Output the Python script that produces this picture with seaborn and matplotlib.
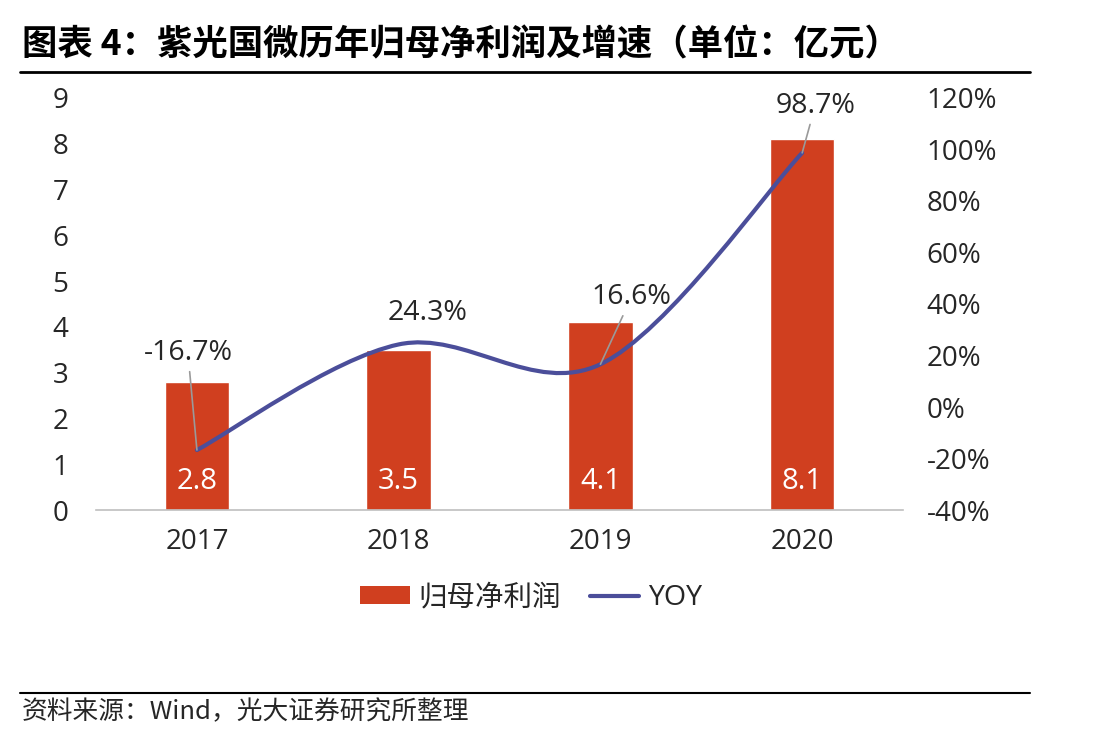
import matplotlib.pyplot as plt
import numpy as np
import seaborn as sns
from matplotlib.lines import Line2D
from matplotlib.patches import Patch, PathPatch
from matplotlib.path import Path

years = ["2017", "2018", "2019", "2020"]
profit = [2.8, 3.5, 4.1, 8.1]
yoy = [-16.7, 24.3, 16.6, 98.7]
yoy_labels = ["-16.7%", "24.3%", "16.6%", "98.7%"]

BAR_COLOR = "#D03F1F"
LINE_COLOR = "#4B4E9A"
TEXT_COLOR = "#262626"

sns.set_style("white")
plt.rcParams["font.family"] = ["Open Sans", "Noto Sans CJK SC", "DejaVu Sans"]


def smooth_path(xs, ys):
    # catmull-rom style bezier, similar to excel's smoothed line
    pts = np.column_stack([xs, ys]).astype(float)
    ext = np.vstack([pts[0], pts, pts[-1]])
    verts = [tuple(pts[0])]
    codes = [Path.MOVETO]
    for i in range(1, len(ext) - 2):
        p0, p1, p2, p3 = ext[i - 1], ext[i], ext[i + 1], ext[i + 2]
        c1 = p1 + (p2 - p0) / 6
        c2 = p2 - (p3 - p1) / 6
        verts += [tuple(c1), tuple(c2), tuple(p2)]
        codes += [Path.CURVE4] * 3
    return Path(verts, codes)


fig = plt.figure(figsize=(11.04, 7.44), dpi=100)
ax = fig.add_axes([0.087, 0.3145, 0.731, 0.5538])

sns.barplot(x=years, y=profit, color=BAR_COLOR, saturation=1, width=0.32, ax=ax)
ax.set_xlim(-0.5, 3.5)
ax.set_ylim(0, 9)
ax.set_yticks(range(0, 10))
ax.set_xlabel("")
ax.set_ylabel("")

for side in ["top", "left", "right"]:
    ax.spines[side].set_visible(False)
ax.spines["bottom"].set_color("#BFBFBF")
ax.spines["bottom"].set_linewidth(1.2)

ax.tick_params(axis="x", length=0, pad=13, labelsize=20, labelcolor=TEXT_COLOR)
ax.tick_params(axis="y", length=0, pad=20, labelsize=20, labelcolor=TEXT_COLOR)
ax.set_xticks(np.arange(-0.5, 4, 1), minor=True)
ax.tick_params(axis="x", which="minor", direction="in", length=4, color="#BFBFBF")

for i, v in enumerate(profit):
    ax.text(i, 0.62, f"{v:.1f}", color="white", ha="center", va="center", fontsize=21)

ax2 = ax.twinx()
ax2.set_ylim(-40, 120)
ax2.set_yticks(range(-40, 121, 20))
ax2.set_yticklabels([f"{t}%" for t in range(-40, 121, 20)])
for side in ax2.spines:
    ax2.spines[side].set_visible(False)
ax2.tick_params(axis="y", length=0, pad=17, labelsize=20, labelcolor=TEXT_COLOR)

ax2.add_patch(PathPatch(smooth_path(range(len(yoy)), yoy), facecolor="none",
                        edgecolor=LINE_COLOR, lw=3, capstyle="round", zorder=3))

label_offsets = [(-9, 97), (29, 31), (31, 67), (13, 47)]
leaders = [True, False, True, True]
for i, (v, lab) in enumerate(zip(yoy, yoy_labels)):
    arrow = dict(arrowstyle="-", color="#9A9A9A", lw=1.2, shrinkA=1, shrinkB=0) if leaders[i] else None
    ax2.annotate(lab, xy=(i, v), xytext=label_offsets[i], textcoords="offset pixels",
                 ha="center", va="center", fontsize=20.5, color=TEXT_COLOR,
                 arrowprops=arrow, zorder=4)

handles = [Patch(facecolor=BAR_COLOR, edgecolor="none"),
           Line2D([], [], color=LINE_COLOR, lw=3)]
fig.legend(handles, ["归母净利润", "YOY"], loc="center", bbox_to_anchor=(0.481, 0.196),
           ncol=2, frameon=False, fontsize=20.5, handlelength=1.75, handleheight=0.6,
           handletextpad=0.3, columnspacing=1.0, labelcolor=TEXT_COLOR)

fig.text(0.02, 0.9395, "图表 4：紫光国微历年归母净利润及增速（单位：亿元）",
         fontsize=25.5, fontweight="bold", color="black", va="center",
         family=["Noto Sans CJK SC", "DejaVu Sans"])
fig.add_artist(Line2D([0.018, 0.933], [0.9032, 0.9032], color="black", lw=2))
fig.add_artist(Line2D([0.018, 0.933], [0.0685, 0.0685], color="black", lw=1.5))
fig.text(0.02, 0.043, "资料来源：Wind，光大证券研究所整理", fontsize=18.5, color=TEXT_COLOR,
         va="center", family=["Noto Sans CJK SC", "DejaVu Sans"])

fig.savefig("out.png", dpi=100, facecolor="white")
